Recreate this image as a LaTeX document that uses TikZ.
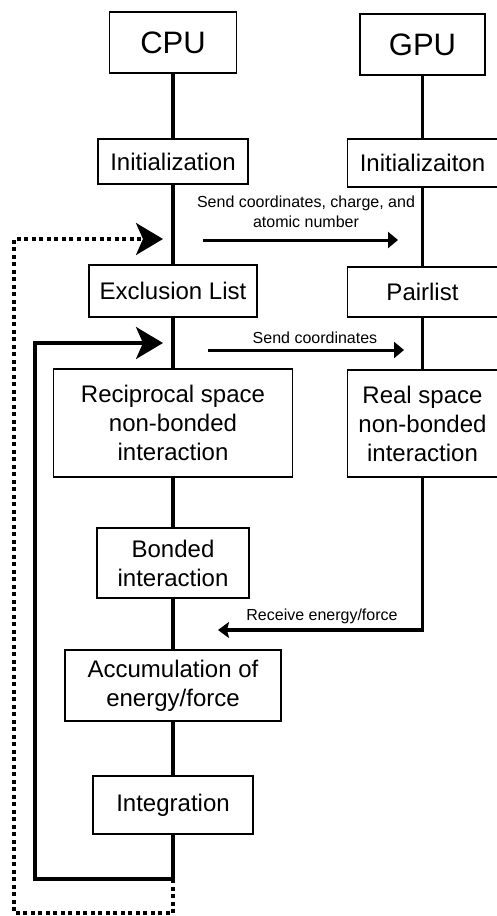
\documentclass[tikz,border=0pt]{standalone}
\usepackage{fontspec}
\setmainfont{Liberation Sans}
\usetikzlibrary{arrows.meta}
\tikzset{
    box/.style={draw,line width=1.8pt,fill=white,align=center,inner sep=0pt,font=\fontsize{24}{29}\selectfont},
    wire/.style={line width=3.2pt},
    bighead/.style={-{Stealth[length=27pt,width=32pt,inset=7pt]}},
    smallhead/.style={line width=3pt,-{Triangle[length=10pt,width=16pt]}},
    lbl/.style={font=\fontsize{16}{20}\selectfont,align=center,inner sep=0pt},
}
\begin{document}
\begin{tikzpicture}[x=1pt,y=-1pt]
                \useasboundingbox (0,0) rectangle (497,916);
                % CPU side
                \node[box,minimum width=127pt,minimum height=61pt,font=\fontsize{31}{36}\selectfont] (cpu) at (173,42.5) {CPU};
                \node[box,minimum width=150pt,minimum height=45pt] (cinit) at (173,161.5) {Initialization};
                \node[box,minimum width=168pt,minimum height=52pt] (cexcl) at (173,291) {Exclusion List};
                \node[box,minimum width=239pt,minimum height=108pt] (crecip) at (173,423) {Reciprocal space\\non-bonded\\interaction};
                \node[box,minimum width=152pt,minimum height=70pt] (cbond) at (173,563) {Bonded\\interaction};
                \node[box,minimum width=216pt,minimum height=71pt] (caccum) at (173,685.5) {Accumulation of\\energy/force};
                \node[box,minimum width=160pt,minimum height=58pt] (cinteg) at (173,805) {Integration};
                % GPU side
                \node[box,minimum width=125pt,minimum height=61pt,font=\fontsize{31}{36}\selectfont] (gpu) at (422.5,44.5) {GPU};
                \node[box,minimum width=150pt,minimum height=48pt] (ginit) at (422.5,163) {Initializaiton};
                \node[box,minimum width=150pt,minimum height=50pt] (gpair) at (422.5,292) {Pairlist};
                \node[box,minimum width=150pt,minimum height=107pt] (greal) at (422.5,423.5) {Real space\\non-bonded\\interaction};
                \draw[wire] (cpu) -- (cinit) -- (cexcl) -- (crecip) -- (cbond) -- (caccum) -- (cinteg);
                \draw[wire] (gpu) -- (ginit) -- (gpair) -- (greal);
                % loops
                \coordinate (lpr) at (173,879);
                \coordinate (lpl) at (35,879);
                \coordinate (lptip) at (163,343);
                \coordinate (dtb) at (14,913);
                \coordinate (dttip) at (163,239);
                \draw[wire,bighead] (cinteg) -- (lpr) -- (lpl) |- (lptip);
                \draw[wire,dash pattern=on 4pt off 3.5pt,bighead] (lpr) -- (lpr |- dtb) -- (dtb) |- (dttip);
                % transfers
                \coordinate (s1a) at (203,240);
                \coordinate (s1b) at (398,240);
                \coordinate (s2a) at (208,350);
                \coordinate (s2b) at (404,350);
                \coordinate (rtip) at (218,630);
                \draw[smallhead] (s1a) -- (s1b);
                \draw[smallhead] (s2a) -- (s2b);
                \draw[wire,-{Stealth[length=11pt,width=16pt,inset=2pt]}] (greal.south) |- (rtip);
                \node[lbl] (s1lbl) at (306,212) {Send coordinates, charge, and\\atomic number};
                \node[lbl,anchor=base] (s2lbl) at (315,343) {Send coordinates};
                \node[lbl,anchor=base] (rlbl) at (322,620) {Receive energy/force};
\end{tikzpicture}
\end{document}
